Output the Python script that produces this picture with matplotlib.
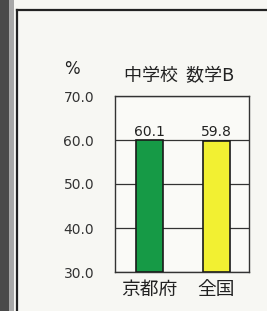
import matplotlib.pyplot as plt
from matplotlib.patches import Rectangle
from matplotlib.lines import Line2D

plt.rcParams['font.family'] = ['Noto Sans CJK JP', 'DejaVu Sans']

# データ
categories = ['京都府', '全国']
values = [60.1, 59.8]
bar_colors = ['#169a46', '#f2f032']
yticks = [30, 40, 50, 60, 70]
title = '中学校  数学B'

fig = plt.figure(figsize=(2.67, 3.11), dpi=100)
fig.patch.set_facecolor('#f7f7f3')

# 左の暗い帯と外枠
fig.patches.append(Rectangle((0, 0), 9 / 267, 1, transform=fig.transFigure,
                             facecolor='#4a4a4a', edgecolor='none'))
fig.patches.append(Rectangle((9 / 267, 0), 5 / 267, 1, transform=fig.transFigure,
                             facecolor='#a8a8a8', edgecolor='none'))
fig.lines.append(Line2D([17 / 267, 17 / 267], [0, 1 - 10 / 311],
                        transform=fig.transFigure, color='#222222', lw=1.6))
fig.lines.append(Line2D([17 / 267, 1], [1 - 10 / 311, 1 - 10 / 311],
                        transform=fig.transFigure, color='#222222', lw=1.6))

ax = fig.add_axes([115 / 267, 1 - 272 / 311, 134 / 267, 176 / 311])
ax.set_facecolor('#fafaf7')

x = range(len(categories))
ax.bar(x, [v - 30 for v in values], bottom=30, width=0.4, color=bar_colors,
       edgecolor='#1a1a1a', linewidth=1.2, zorder=3)

for xi, v in zip(x, values):
    ax.text(xi, 60.3, f'{v:.1f}', ha='center', va='bottom',
            fontsize=10, color='#222222', family='DejaVu Sans')

ax.set_ylim(30, 70)
ax.set_xlim(-0.515, 1.485)
ax.set_yticks(yticks)
ax.set_yticklabels([f'{t:.1f}' for t in yticks], family='DejaVu Sans',
                   fontsize=10, color='#333333')
ax.set_xticks(list(x))
ax.set_xticklabels(categories, fontsize=13.5, color='#222222')
ax.tick_params(axis='y', length=0, pad=15)
ax.tick_params(axis='x', length=0, pad=5)
ax.grid(axis='y', color='#333333', linewidth=0.9, zorder=1)

for s in ax.spines.values():
    s.set_color('#333333')
    s.set_linewidth(1.0)

fig.text(72 / 267, 1 - 69 / 311, '%', ha='center', va='center',
         fontsize=12, color='#222222', family='DejaVu Sans')
fig.text(179 / 267, 1 - 76 / 311, title, ha='center', va='center',
         fontsize=13, color='#222222')

fig.savefig('out.png', dpi=100, facecolor=fig.get_facecolor())
